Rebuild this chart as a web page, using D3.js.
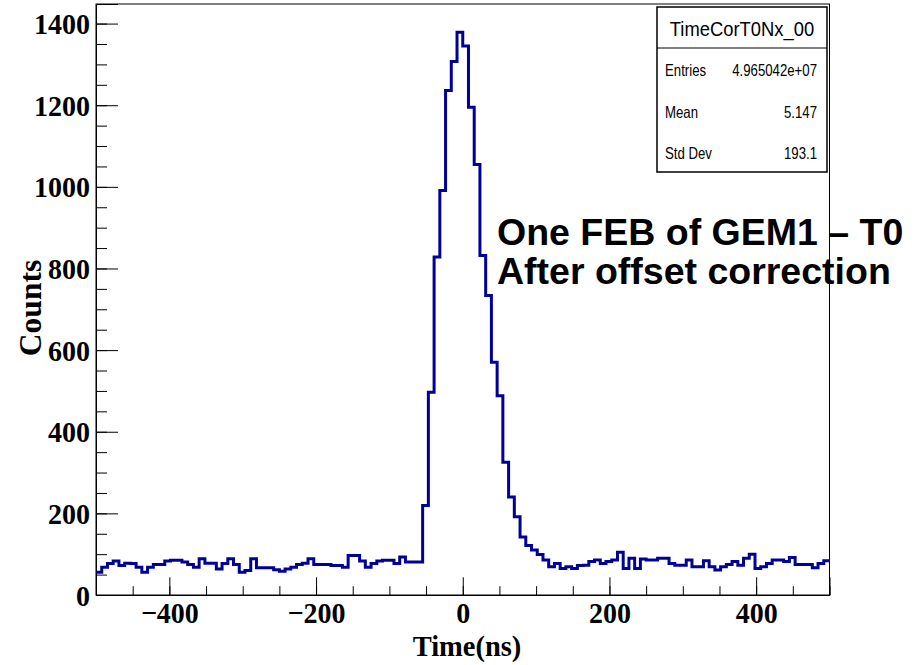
<!DOCTYPE html>
<html>
<head>
<meta charset="utf-8">
<script src="https://d3js.org/d3.v7.min.js"></script>
<style>
  body { margin: 0; background: #fff; }
</style>
</head>
<body>
<div id="chart"></div>
<script>
// bin contents, 128 bins from -500 to 500 ns
var binCounts = [
  56, 68, 77, 83, 72, 78, 77, 68, 56, 68,
  75, 75, 83, 85, 85, 81, 75, 68, 89, 78,
  78, 64, 77, 89, 75, 56, 60, 89, 67, 67,
  67, 62, 58, 64, 68, 75, 78, 89, 75, 75,
  75, 72, 72, 68, 97, 97, 83, 68, 77, 83,
  85, 85, 77, 93, 81, 81, 81,
  219, 497, 828, 991, 1236, 1307, 1379, 1345, 1195, 1055,
  832, 734, 570, 488, 325, 240, 192, 142, 121, 110, 99,
  86, 69, 77, 65, 69, 65, 72, 73, 82, 86,
  77, 82, 86, 105, 65, 90, 65, 88, 86, 86,
  90, 90, 77, 73, 73, 86, 69, 69, 84, 69,
  61, 69, 75, 82, 73, 90, 100, 65, 69, 77,
  86, 86, 82, 92, 75, 75, 75, 67, 77, 84
]
var xRange = [-500, 500]
var yRange = [0, 1448]
var xTicks = [-400, -200, 0, 200, 400]
var yTicks = [0, 200, 400, 600, 800, 1000, 1200, 1400]
var minorStep = 50
var histName = 'TimeCorT0Nx_00'
var statNames = ['Entries', 'Mean', 'Std Dev']
var statValues = ['4.965042e+07', '5.147', '193.1']
var noteLines = ['One FEB of GEM1 \u2013 T0', 'After offset correction']

var width = 921
var height = 665
var margin = { top: 4, right: 91.5, bottom: 70, left: 96 }
var w = width - margin.left - margin.right
var h = height - margin.top - margin.bottom
var serif = '"Liberation Serif", "Times New Roman", serif'
var sans = '"Liberation Sans", Arial, sans-serif'

var svg = d3.select('#chart')
  .append('svg')
    .attr('width', width)
    .attr('height', height)

var g = svg.append('g')
  .attr('transform', 'translate(' + margin.left + ',' + margin.top + ')')

var x = d3.scaleLinear().domain(xRange).range([0, w])
var y = d3.scaleLinear().domain(yRange).range([h, 0])

// frame
g.append('rect')
  .attr('width', w)
  .attr('height', h)
  .attr('fill', 'none')
  .attr('stroke', '#000')
  .attr('stroke-width', 1)

// minor ticks
g.append('g')
  .attr('transform', 'translate(0,' + h + ')')
  .call(d3.axisBottom(x)
    .tickValues(d3.range(xRange[0], xRange[1] + 1, minorStep))
    .tickSize(-8.8)
    .tickFormat(''))
  .call(a => a.select('.domain').remove())

g.append('g')
  .call(d3.axisLeft(y)
    .tickValues(d3.range(yRange[0], yRange[1], minorStep))
    .tickSize(-11)
    .tickFormat(''))
  .call(a => a.select('.domain').remove())

// major ticks + labels
var xAxis = g.append('g')
  .attr('transform', 'translate(0,' + h + ')')
  .call(d3.axisBottom(x)
    .tickValues(xTicks)
    .tickSize(-17.7)
    .tickFormat(d3.format('d')))

var yAxis = g.append('g')
  .call(d3.axisLeft(y)
    .tickValues(yTicks)
    .tickSize(-22)
    .tickFormat(d3.format('d')))

;[xAxis, yAxis].forEach(function(a) {
  a.attr('font-family', serif)
    .attr('font-size', 28)
    .attr('font-weight', 'bold')
  a.selectAll('text').attr('fill', '#000')
    .attr('x', null).attr('y', null).attr('dy', null)
  a.select('.domain').attr('stroke', '#000')
})
// labels are a bit taller than wide in the original
xAxis.selectAll('text').attr('transform', 'translate(0,28)scale(1,1.08)')
yAxis.selectAll('text').attr('transform', 'translate(-6,10)scale(1,1.08)')

// histogram outline
var binWidth = (xRange[1] - xRange[0]) / binCounts.length
var steps = binCounts.map(function(c, i) { return [xRange[0] + i * binWidth, c] })
steps.push([xRange[1], binCounts[binCounts.length - 1]])

g.append('path')
  .datum(steps)
  .attr('fill', 'none')
  .attr('stroke', '#000099')
  .attr('stroke-width', 3)
  .attr('stroke-linejoin', 'miter')
  .attr('d', d3.line()
    .x(d => x(d[0]))
    .y(d => y(d[1]))
    .curve(d3.curveStepAfter))

// axis titles
svg.append('text')
  .attr('transform', 'translate(467,656)scale(1,1.05)')
  .attr('text-anchor', 'middle')
  .attr('font-family', serif)
  .attr('font-size', 28.5)
  .attr('font-weight', 'bold')
  .text('Time(ns)')

svg.append('text')
  .attr('transform', 'translate(41,308)rotate(-90)')
  .attr('text-anchor', 'middle')
  .attr('font-family', serif)
  .attr('font-size', 31.5)
  .attr('font-weight', 'bold')
  .text('Counts')

// stats box
var stats = svg.append('g')
  .attr('font-family', sans)
  .attr('fill', '#000')

stats.append('rect')
  .attr('x', 657).attr('y', 7)
  .attr('width', 170).attr('height', 165)
  .attr('fill', '#fff')
  .attr('stroke', '#000')
  .attr('stroke-width', 1.5)

stats.append('line')
  .attr('x1', 657).attr('x2', 827)
  .attr('y1', 48).attr('y2', 48)
  .attr('stroke', '#000')
  .attr('stroke-width', 1)

stats.append('text')
  .attr('transform', 'translate(742,36)scale(0.92,1.05)')
  .attr('text-anchor', 'middle')
  .attr('font-size', 20)
  .text(histName)

statNames.forEach(function(name, i) {
  var by = 76 + i * 41.5
  stats.append('text')
    .attr('transform', 'translate(665,' + by + ')scale(0.88,1.1)')
    .attr('font-size', 15)
    .text(name)
  stats.append('text')
    .attr('transform', 'translate(817,' + by + ')scale(0.88,1.1)')
    .attr('text-anchor', 'end')
    .attr('font-size', 15)
    .text(statValues[i])
})

// annotation
svg.append('g')
  .selectAll('text')
  .data(noteLines)
  .enter()
  .append('text')
    .attr('x', 497)
    .attr('y', (d, i) => 245 + i * 39)
    .attr('font-family', sans)
    .attr('font-size', 37.5)
    .attr('font-weight', 'bold')
    .text(d => d)
</script>
</body>
</html>
